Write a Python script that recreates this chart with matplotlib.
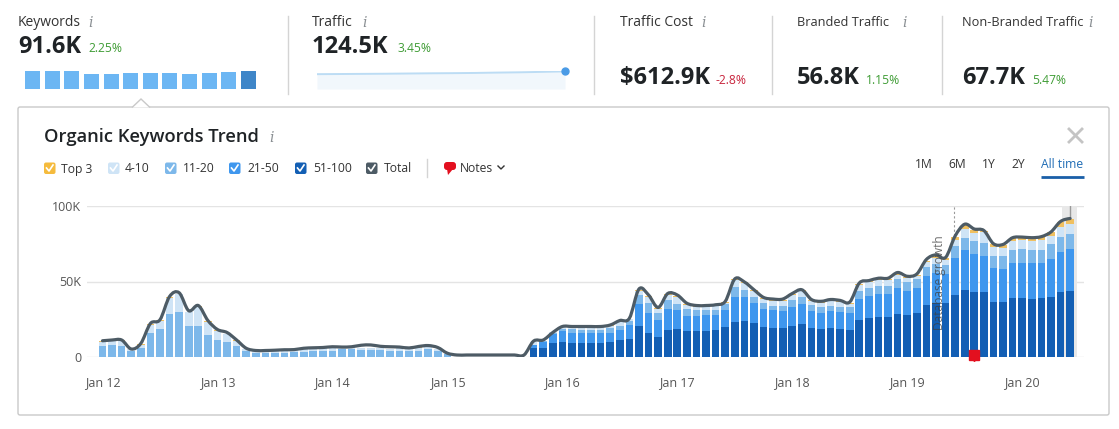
import numpy as np
import matplotlib
matplotlib.use("Agg")
import matplotlib.pyplot as plt
from matplotlib.patches import FancyBboxPatch, PathPatch, Polygon
from matplotlib.path import Path

plt.rcParams['font.family'] = ['Open Sans', 'DejaVu Sans']

# stack tops, in thousands, one per month from Jan 12
top_51_100 = [0] * 45 + [
    5.4, 5.4, 8.7, 9.8, 9.2, 9.2, 9.2, 9.2, 9.8, 11, 12, 20.5, 16, 13, 18, 18.3, 17, 17, 17, 17.7, 19.7, 23, 23.7, 22.4,
    20, 19, 19, 20.5, 21.8, 19, 18.4, 19, 18.4, 17.7, 24.5, 25.8, 26.5, 26.5, 28.5, 27.8, 29, 34.5, 36, 36, 41, 44.5,
    43, 42.7, 36.5, 36.5, 39, 39, 38.5, 39, 40, 43, 44]
top_21_50 = [0] * 45 + [
    7.6, 9.8, 14.8, 17, 16, 16, 15.6, 15.6, 16, 18, 21, 35, 29, 24.4, 32, 31, 27, 27, 27.7, 27.7, 31, 39.4, 39.4, 36,
    31.5, 31, 30.5, 33.3, 35, 30.5, 29, 30.4, 30, 29, 38.5, 40.5, 42, 42, 46, 44, 46, 53.7, 55.7, 55, 65.8, 70.7,
    68.5, 67.3, 59, 58.6, 62.6, 62.6, 62.6, 62.6, 65.3, 70, 71.6]
top_11_20 = [
    7, 8, 7, 3.5, 6, 15.5, 18.5, 28.5, 30, 20.5, 20.5, 14.5, 11, 10, 7, 3.5, 2.5, 2.5, 2.3, 2.5, 3.2, 3.3, 4, 4,
    4, 4.8, 4.8, 4.3, 4.3, 4.3, 3.6, 4, 3.6, 3.6, 5, 3.5, 1.5, 0, 0, 0, 0, 0, 0, 0, 0,
    7.9, 10.5, 16.5, 18.5, 18.3, 18, 18, 18, 18.8, 20.4, 23.7, 41, 35.5, 29, 37.8, 35, 31.5, 31, 31, 31, 35, 46.5, 44.5, 40,
    35.5, 34, 34, 37.4, 40, 34.5, 32.7, 34, 33.3, 32.7, 44, 46, 47, 47, 51.5, 49.5, 51.5, 60, 61.7, 61.3, 73.6, 79,
    76.7, 75.8, 67.3, 66.7, 70.7, 71.4, 70.7, 71, 74.7, 80, 82]
top_4_10 = [
    10, 10.5, 10.5, 4.8, 8, 21, 24, 39, 41.5, 29.5, 33, 23, 17, 15, 10.5, 5, 3.7, 3.7, 3.8, 4, 4.3, 5, 5.4, 5.6,
    5.8, 6.2, 6.2, 5.6, 5.5, 5.5, 5, 5.8, 6, 6, 6.6, 4.8, 2, 0, 0, 0, 0, 0, 0, 0, 0,
    9.5, 10.5, 15.5, 19.5, 19.5, 19.5, 19.5, 19.5, 20.5, 23.3, 25, 44, 40, 32, 41, 40, 34.5, 33.3, 33.3, 33.8, 36, 51, 49, 44,
    38.5, 37.3, 37.3, 41, 43.5, 37, 35.8, 37, 36.4, 35.3, 47.5, 49.5, 50.8, 50.8, 54.5, 52.3, 53.5, 62.8, 65.5, 64.5, 77.5, 84.8,
    82.5, 83, 73, 72.5, 77, 77.6, 77, 77.6, 80.5, 86.6, 88.6]
top_top3 = [
    10.2, 10.7, 10.7, 4.9, 8.2, 21.5, 24.3, 39.5, 42, 30, 33.5, 23.5, 17.5, 15.3, 10.7, 5.1, 3.8, 3.8, 3.9, 4.1, 4.4, 5.1, 5.5, 5.7,
    5.9, 6.3, 6.3, 5.7, 5.6, 5.6, 5.1, 5.9, 6.1, 6.1, 6.7, 4.9, 2, 0, 0, 0, 0, 0, 0, 0, 0,
    9.6, 10.6, 15.7, 19.7, 19.7, 19.7, 19.7, 19.7, 20.7, 23.6, 25.3, 44.5, 40.5, 32.4, 41.5, 40.5, 35, 33.7, 33.7, 34.2, 36.4, 51.5, 49.4, 44.3,
    39, 38, 38, 41.7, 44.2, 37.7, 36.5, 37.7, 37, 36, 48.5, 50.2, 51.8, 51.8, 55.5, 53, 54.5, 64, 67, 66, 79.8, 87.7,
    84.5, 83.7, 75, 74.5, 79, 79.4, 79, 79.7, 82.8, 89.7, 91.5]
total = [
    10.5, 11, 11, 5, 8.7, 22, 24.5, 40, 42.5, 30.5, 34, 24, 18, 16, 11, 5.5, 4, 4, 4.2, 4.5, 4.6, 5.5, 5.8, 6,
    6.5, 6.3, 6.5, 7.5, 7.7, 6.8, 6.5, 6.3, 5.7, 6.7, 7.3, 6, 2.2, 1, 1, 1, 1, 1, 1, 1, 1,
    10.3, 11, 16, 20, 20, 20, 20, 20, 21, 24, 25.5, 45, 41, 32.7, 42, 41, 35.5, 34, 34, 34.5, 36.7, 51.7, 49.7, 44.5,
    39.4, 38.3, 38.3, 42, 44.5, 38, 36.8, 38, 37.4, 36.3, 49, 50.6, 52.2, 52.2, 56, 53.5, 55, 64.7, 67.8, 66, 80.3, 88.2,
    85, 84, 75.2, 74.7, 79.2, 79.6, 79.2, 79.9, 83, 90, 92]

year_labels = ["Jan 12", "Jan 13", "Jan 14", "Jan 15", "Jan 16", "Jan 17", "Jan 18", "Jan 19", "Jan 20"]
y_ticks = [0, 50, 100]
y_labels = ["0", "50K", "100K"]
keyword_blocks = [18, 18, 18, 15.5, 15.5, 16.5, 16.5, 16, 15.5, 16, 17.5, 18]
traffic_spark = [120.6, 120.8, 121, 121.2, 121.5, 121.8, 122, 122.3, 122.8, 123.2, 123.8, 124.5]

stats = [
    ("Keywords", 10, "91.6K", "2.25%", 18, 47, 88, 91, "#3f9c35"),
    ("Traffic", 10, "124.5K", "3.45%", 312, 47, 397, 365, "#3f9c35"),
    ("Traffic Cost", 10, "$612.9K", "-2.8%", 620, 78, 716, 704, "#c8243c"),
    ("Branded Traffic", 9.2, "56.8K", "1.15%", 797, 78, 866, 905, "#3f9c35"),
    ("Non-Branded Traffic", 9.2, "67.7K", "5.47%", 962, 78, 1032, 1091, "#3f9c35"),
]
legend = [("Top 3", "#f5bb3d", 44, 61), ("4-10", "#cfe4f6", 108, 125), ("11-20", "#7db8ea", 165, 183),
          ("21-50", "#3f97ee", 229, 247), ("51-100", "#135fb4", 295, 313), ("Total", "#4d5b65", 366, 384)]
ranges = [("1M", 924), ("6M", 957), ("1Y", 989), ("2Y", 1018)]

W, H = 1119, 429
fig = plt.figure(figsize=(W / 100, H / 100), dpi=100, facecolor="white")

# page furniture in pixel coordinates
ui = fig.add_axes([0, 0, 1, 1], zorder=0)
ui.set_xlim(0, W)
ui.set_ylim(H, 0)
ui.axis("off")

def info(x, y):
    ui.text(x, y, "i", family="DejaVu Serif", style="italic", fontsize=10, color="#8a8f93", ha="center", va="center")

for name, size, value, change, x, vy, cx, ix, col in stats:
    ui.text(x, 23, name, fontsize=size, color="#333333", va="center")
    info(ix, 23)
    ui.text(x, vy, value, fontsize=17, fontweight="bold", color="#1f2326", va="center")
    ui.text(cx, vy + 2, change, fontsize=8.7, color=col, va="center")

for x in [288, 594, 772, 942]:
    ui.plot([x, x], [16, 94], color="#d4d4d4", lw=1)

ui.add_patch(FancyBboxPatch((18, 107), 1091, 308, boxstyle="round,pad=0,rounding_size=2",
                            fc="white", ec="#c9c9c9", lw=1))
ui.add_patch(Polygon([[132, 107.5], [141, 99], [150, 107.5]], closed=False, fc="white", ec="#c9c9c9", lw=1, zorder=3))

ui.text(44, 137, "Organic Keywords Trend", fontsize=13.2, fontweight="semibold", color="#1f2326", va="center")
info(272, 138)

for name, col, bx, tx in legend:
    ui.add_patch(FancyBboxPatch((bx, 162.5), 11.5, 11.5, boxstyle="round,pad=0,rounding_size=2", fc=col, ec="none"))
    ui.plot([bx + 2.5, bx + 5, bx + 9], [168, 171, 165], color="white", lw=1.2)
    ui.text(tx, 169, name, fontsize=8.7, color="#333333", va="center")

ui.plot([427, 427], [159, 177], color="#d4d4d4", lw=1)
ui.add_patch(FancyBboxPatch((444, 162), 12, 8, boxstyle="round,pad=0,rounding_size=3", fc="#e3101f", ec="none"))
ui.add_patch(Polygon([[447, 169], [453, 169], [448, 175]], fc="#e3101f", ec="none"))
ui.text(460, 168, "Notes", fontsize=8.7, color="#333333", va="center")
ui.plot([498, 501, 504], [166, 169, 166], color="#333333", lw=1)

for name, x in ranges:
    ui.text(x, 165, name, fontsize=8.7, color="#333333", ha="center", va="center")
ui.text(1062, 165, "All time", fontsize=8.7, color="#1f6cb5", ha="center", va="center")
ui.plot([1041, 1084], [176.5, 176.5], color="#1a5fa8", lw=2, solid_capstyle="butt")

ui.plot([1069, 1082], [129, 142], color="#c4c4c4", lw=2)
ui.plot([1069, 1082], [142, 129], color="#c4c4c4", lw=2)

# keywords mini blocks
kw = fig.add_axes([25 / W, 1 - 89 / H, 231 / W, 18 / H], zorder=1)
block_x = np.arange(len(keyword_blocks))
block_cols = ["#6cb6f3"] * (len(keyword_blocks) - 1) + ["#3f86c8"]
kw.bar(block_x, keyword_blocks, width=0.77, color=block_cols)
kw.set_xlim(-0.385, len(keyword_blocks) - 1 + 0.385)
kw.set_ylim(0, 18)
kw.axis("off")

# traffic sparkline
sp = fig.add_axes([317 / W, 1 - 89 / H, 248 / W, 18 / H], zorder=1)
spark_x = np.arange(len(traffic_spark))
sp.fill_between(spark_x, 100, traffic_spark, color="#f1f7fc", lw=0)
sp.plot(spark_x, traffic_spark, color="#bcdcf4", lw=1.4)
sp.plot(spark_x[-1], traffic_spark[-1], "o", color="#4a9be6", ms=5, clip_on=False)
sp.set_xlim(0, len(traffic_spark) - 1)
sp.set_ylim(100, 125)
sp.axis("off")

# main chart
ax = fig.add_axes([87 / W, 1 - 356.5 / H, 997 / W, 150 / H], zorder=2)
ax.patch.set_alpha(0)
months = np.arange(len(total))
px_month = 9.58
ax.set_xlim((87 - 102.5) / px_month, (1084 - 102.5) / px_month)
ax.set_ylim(0, 100)

ax.axvspan(months[-1] - 0.85, months[-1] + 0.75, color="#e8e8e8", lw=0, zorder=1)
ax.plot([months[-1]] * 2, [92, 100], color="#9a9a9a", lw=1, zorder=1)
ax.plot([88.9, 88.9], [66, 100], color="#9a9a9a", lw=0.8, ls=(0, (2, 2)), zorder=1)

stack = [(top_51_100, "#135fb4"), (top_21_50, "#3f97ee"), (top_11_20, "#7db8ea"),
         (top_4_10, "#cfe4f6"), (top_top3, "#f0c060")]
bottom = np.zeros(len(total))
for tops, col in stack:
    tops = np.array(tops, dtype=float)
    ax.bar(months, tops - bottom, bottom=bottom, width=0.8, color=col, lw=0, zorder=3)
    bottom = tops

# smooth total line as a Catmull-Rom curve through the monthly points
verts = [(months[0], total[0])]
codes = [Path.MOVETO]
for i in range(len(total) - 1):
    prev_y = total[max(i - 1, 0)]
    next_y = total[min(i + 2, len(total) - 1)]
    verts += [(months[i] + 1 / 3, total[i] + (total[i + 1] - prev_y) / 6),
              (months[i + 1] - 1 / 3, total[i + 1] - (next_y - total[i]) / 6),
              (months[i + 1], total[i + 1])]
    codes += [Path.CURVE4] * 3
ax.add_patch(PathPatch(Path(verts, codes), fc="none", ec="#4d5b65", lw=2.3, capstyle="round", joinstyle="round", zorder=5))

ax.text(87.4, 49, "Database growth", rotation=90, fontsize=8.6, color="#3f3f3f", alpha=0.75, ha="center", va="center", zorder=6)

ax.set_yticks(y_ticks)
ax.set_yticklabels(y_labels, fontsize=9, color="#555555")
ax.set_xticks(np.arange(len(year_labels)) * 12)
ax.set_xticklabels(year_labels, fontsize=9, color="#555555")
ax.tick_params(axis="both", length=0)
ax.tick_params(axis="x", pad=14)
ax.tick_params(axis="y", pad=4)
ax.grid(axis="y", color="#e4e4e4", lw=1, zorder=0)
ax.set_axisbelow(True)
for s in ax.spines.values():
    s.set_visible(False)

# note flag on the time axis
ax.plot(91, 1.2, marker="s", ms=6.5, color="#e3101f", clip_on=False, zorder=7)
ax.plot(91, -1.6, marker="v", ms=3, color="#e3101f", clip_on=False, zorder=7)

fig.savefig("out.png", dpi=100)
